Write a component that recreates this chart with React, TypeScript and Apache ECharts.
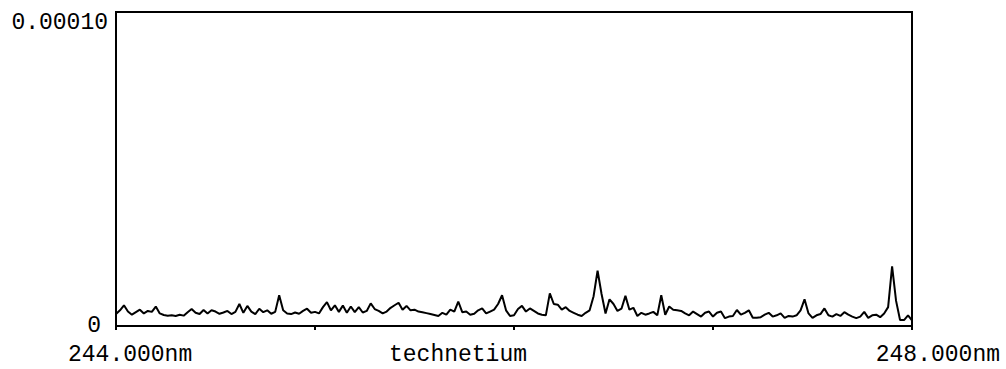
import React, { useEffect, useRef } from "react";
import * as echarts from "echarts";

// wavelength grid: 244.00 nm to 248.00 nm, step 0.02 nm
const wlStart = 244.0;
const wlStep = 0.02;

// intensity in units of 1e-6
const intensity: number[] = [
  3.8, 5.0, 6.6, 4.6, 3.6, 4.4, 5.2, 4.0, 4.8, 4.5,
  6.2, 4.0, 3.5, 3.3, 3.4, 3.2, 3.6, 3.3, 4.4, 5.4,
  4.2, 3.8, 5.1, 4.0, 5.0, 4.6, 3.9, 4.3, 4.8, 3.8,
  4.5, 7.0, 4.2, 6.4, 4.6, 3.8, 5.5, 4.4, 5.0, 3.9,
  4.5, 9.8, 5.0, 4.0, 3.8, 4.3, 3.9, 4.8, 5.5, 4.2,
  4.5, 4.0, 6.0, 7.6, 5.0, 6.6, 4.5, 6.5, 4.2, 6.2,
  4.4, 6.0, 4.3, 4.8, 7.2, 5.4, 4.8, 4.0, 4.6, 5.8,
  6.6, 7.4, 5.2, 6.4, 5.0, 5.2, 4.6, 4.4, 4.1, 3.8,
  3.5, 3.2, 4.2, 3.6, 5.2, 4.6, 7.8, 4.4, 4.6, 3.6,
  3.9, 5.0, 5.6, 4.0, 4.6, 5.2, 7.0, 9.8, 5.0, 3.2,
  3.4, 5.4, 6.4, 4.6, 5.6, 4.8, 4.0, 3.6, 3.4, 10.4,
  7.0, 6.8, 5.2, 6.0, 4.8, 4.2, 3.6, 3.2, 4.2, 5.0,
  9.5, 17.6, 10.2, 4.0, 8.5, 7.0, 4.8, 5.5, 9.6, 5.2,
  5.8, 3.2, 4.2, 3.6, 4.0, 4.5, 3.4, 9.8, 3.6, 6.2,
  5.2, 5.0, 4.8, 4.0, 3.4, 4.6, 3.8, 3.0, 4.2, 4.6,
  3.0, 4.2, 4.6, 2.5, 3.0, 3.2, 5.1, 3.6, 4.2, 5.0,
  2.6, 2.6, 2.8, 3.6, 4.2, 3.0, 3.4, 4.0, 2.6, 3.2,
  3.0, 3.4, 5.0, 8.5, 4.0, 2.6, 3.4, 3.8, 5.6, 3.4,
  3.0, 3.8, 3.2, 4.4, 3.6, 3.0, 2.5, 3.0, 4.5, 2.6,
  3.4, 3.6, 2.8, 4.0, 6.0, 19.0, 8.0, 1.9, 1.9, 3.4,
  1.8,
];

const xTickLabels = ["244.000nm", "248.000nm"];
const yTickLabels = ["0", "0.00010"];
const xTitle = "technetium";

const FONT = "'Liberation Mono', 'DejaVu Sans Mono', monospace";

export default function App() {
  const ref = useRef<HTMLDivElement>(null);

  useEffect(() => {
    if (!ref.current) return;
    const chart = echarts.init(ref.current, undefined, { renderer: "svg" });
    const data = intensity.map((v, i) => [
      +(wlStart + i * wlStep).toFixed(2),
      v * 1e-6,
    ]);
    const textStyle = (extra: any) => ({
      fontFamily: FONT,
      fontSize: 23,
      fill: "#000",
      ...extra,
    });
    chart.setOption({
      animation: false,
      backgroundColor: "#fff",
      grid: { left: 116, right: 94, top: 12, bottom: 43, show: true, borderColor: "#000", borderWidth: 2 },
      xAxis: {
        type: "value",
        min: 244,
        max: 248,
        interval: 1,
        axisLine: { show: true, lineStyle: { color: "#000", width: 2 } },
        axisTick: { show: true, length: 4, lineStyle: { color: "#000", width: 2 } },
        axisLabel: { show: false },
        splitLine: { show: false },
      },
      yAxis: {
        type: "value",
        min: 0,
        max: 0.0001,
        interval: 0.0001,
        axisLine: { show: true, lineStyle: { color: "#000", width: 2 } },
        axisTick: { show: false },
        axisLabel: { show: false },
        splitLine: { show: false },
      },
      series: [
        {
          type: "line",
          data,
          showSymbol: false,
          lineStyle: { color: "#000", width: 2 },
        },
      ],
      graphic: [
        { type: "text", x: 108, y: 23, style: textStyle({ text: yTickLabels[1], align: "right", verticalAlign: "middle" }) },
        { type: "text", x: 101, y: 326, style: textStyle({ text: yTickLabels[0], align: "right", verticalAlign: "middle" }) },
        { type: "text", x: 68, y: 355, style: textStyle({ text: xTickLabels[0], align: "left", verticalAlign: "middle" }) },
        { type: "text", x: 458, y: 355, style: textStyle({ text: xTitle, align: "center", verticalAlign: "middle" }) },
        { type: "text", x: 1000, y: 355, style: textStyle({ text: xTickLabels[1], align: "right", verticalAlign: "middle" }) },
      ],
    });
    return () => chart.dispose();
  }, []);

  return (
    <div
      ref={ref}
      style={{ position: "fixed", left: 0, top: 0, width: 1006, height: 369, background: "#fff" }}
    />
  );
}
